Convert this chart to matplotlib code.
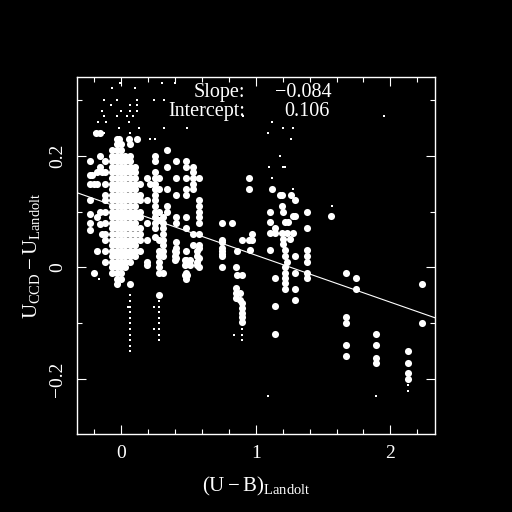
import numpy as np
import matplotlib
matplotlib.use("Agg")
from matplotlib import pyplot as plt
from matplotlib.ticker import MultipleLocator

plt.rcParams['font.family'] = ['Liberation Serif', 'DejaVu Serif']
plt.rcParams['mathtext.fontset'] = 'custom'
plt.rcParams['mathtext.rm'] = 'Liberation Serif'
plt.rcParams['mathtext.it'] = 'Liberation Serif'

# fit
slope = -0.084
intercept = 0.106

# dense columns of big dots (x, list of y)
col_x = [-0.12, -0.07, -0.03, 0.00, 0.03, 0.065, 0.10, 0.14, 0.25, 0.28, 0.31, 0.34, 0.41, 0.48, 0.53, 0.58, 0.75]
col_y = [
    [0.19, 0.17, 0.15, 0.13, 0.12, 0.10, 0.08, 0.06, 0.05, 0.03, 0.01],
    [0.21, 0.20, 0.19, 0.18, 0.17, 0.16, 0.15, 0.14, 0.13, 0.12, 0.11, 0.10, 0.09, 0.08, 0.07, 0.06, 0.05, 0.04, 0.03, 0.02, 0.01, 0.00, -0.01],
    [0.23, 0.22, 0.21, 0.20, 0.19, 0.18, 0.17, 0.16, 0.15, 0.14, 0.13, 0.12, 0.11, 0.10, 0.09, 0.08, 0.07, 0.06, 0.05, 0.04, 0.03, 0.02, 0.01, 0.00, -0.01, -0.02, -0.03],
    [0.22, 0.21, 0.20, 0.19, 0.18, 0.17, 0.16, 0.15, 0.14, 0.13, 0.12, 0.11, 0.10, 0.09, 0.08, 0.07, 0.06, 0.05, 0.04, 0.03, 0.02, 0.01, 0.00, -0.01, -0.02],
    [0.20, 0.19, 0.18, 0.17, 0.16, 0.15, 0.14, 0.13, 0.12, 0.11, 0.10, 0.09, 0.08, 0.07, 0.06, 0.05, 0.04, 0.03, 0.02, 0.01, 0.00],
    [0.22, 0.20, 0.19, 0.18, 0.17, 0.16, 0.15, 0.14, 0.13, 0.12, 0.11, 0.10, 0.09, 0.08, 0.07, 0.06, 0.05, 0.04, 0.03, 0.02, 0.01, -0.03],
    [0.18, 0.17, 0.16, 0.15, 0.14, 0.13, 0.12, 0.11, 0.10, 0.09, 0.08, 0.07, 0.06, 0.05, 0.04, 0.03, 0.02],
    [0.15, 0.13, 0.12, 0.10, 0.09, 0.07, 0.06, 0.05, 0.03],
    [0.20, 0.19, 0.17, 0.16, 0.15, 0.14, 0.13, 0.12, 0.11, 0.10, 0.09, 0.08, 0.07, 0.055],
    [0.16, 0.14, 0.10, 0.085, 0.05, 0.03, 0.02, 0.01, 0.00, -0.01, -0.05],
    [0.09, 0.08, 0.07, 0.06, 0.05, 0.04, 0.03, 0.02, -0.01],
    [0.21, 0.18, 0.14, 0.11, 0.10],
    [0.19, 0.16, 0.13, 0.09, 0.08, 0.045, 0.035, 0.027, 0.017],
    [0.19, 0.18, 0.16, 0.14, 0.13, 0.09, 0.07, 0.03, 0.013, 0.008, -0.01, -0.015, -0.02],
    [0.18, 0.17, 0.16, 0.15, 0.14, 0.06, 0.04],
    [0.16, 0.12, 0.11, 0.10, 0.09, 0.08, 0.06, 0.04, 0.035, 0.017, 0.00],
    [0.08, 0.05, 0.045, 0.035, 0.025, 0.02, 0.00, 0.03],
]

# scattered big dots
big_x = [-0.23, -0.22, -0.20, -0.18, -0.14, -0.16, -0.16, -0.23, -0.23, -0.18, -0.23, -0.16, -0.23, -0.18,
         -0.23, -0.16, -0.23, -0.14, -0.18, -0.20, -0.19, -0.16, -0.02, 0.06, 0.12,
         0.19, 0.19, 0.19, 0.19, 0.21, 0.19, 0.19,
         0.47, 0.47, 0.51, 0.51, 0.47, 0.49, 0.56, 0.56, 0.56, 0.56, 0.40, 0.40, 0.40,
         0.82, 0.86, 0.85, 0.86, 0.90, 0.85, 0.85, 0.88, 0.85, 0.88, 0.90, 0.90, 0.90, 0.90, 0.90,
         0.95, 0.95, 0.95, 0.97, 0.97, 0.957, 0.90,
         1.12, 1.18, 1.195, 1.26, 1.29, 1.195, 1.106, 1.20, 1.38, 1.277, 1.292, 1.56, 1.106, 1.217,
         1.239, 1.143, 1.381, 1.106, 1.143, 1.195, 1.232, 1.277, 1.202, 1.255, 1.202, 1.217, 1.106, 1.381,
         1.217, 1.232, 1.217, 1.217, 1.217, 1.217, 1.217, 1.292, 1.292, 1.292, 1.292, 1.381, 1.381,
         1.381, 1.381, 1.143, 1.143, 1.143,
         1.671, 1.671, 1.671, 1.671, 1.671, 1.746, 1.746, 1.894, 1.894, 1.894, 1.894,
         2.132, 2.132, 2.132, 2.132, 2.236, 2.236]
big_y = [0.19, 0.165, 0.15, 0.17, 0.17, 0.20, 0.18, 0.165, 0.15, 0.15, 0.12, 0.10, 0.095, 0.09,
         0.08, 0.078, 0.067, 0.06, 0.03, -0.01, 0.24, 0.24, 0.23, 0.23, 0.23,
         0.16, 0.12, 0.08, 0.05, 0.15, 0.01, 0.004,
         0.013, 0.004, 0.013, 0.004, -0.014, -0.014, 0.03, 0.02, 0.01, 0.005, 0.03, 0.02, 0.013,
         0.08, 0.03, 0.00, -0.014, -0.014, -0.037, -0.046, -0.046, -0.055, -0.059, -0.064, -0.073, -0.082, -0.089, -0.098,
         0.16, 0.14, 0.05, 0.06, 0.05, 0.031, 0.05,
         0.14, 0.13, 0.13, 0.13, 0.12, 0.11, 0.10, 0.10, 0.10, 0.092, 0.092, 0.092, 0.081, 0.081,
         0.081, 0.070, 0.070, 0.061, 0.061, 0.061, 0.061, 0.061, 0.051, 0.051, 0.042, 0.031, 0.031, 0.031,
         0.020, 0.009, 0.001, -0.010, -0.019, -0.028, -0.039, 0.020, -0.010, -0.039, -0.059, 0.020, 0.009,
         -0.010, -0.019, -0.019, -0.069, -0.119,
         -0.010, -0.089, -0.100, -0.139, -0.159, -0.019, -0.039, -0.119, -0.139, -0.161, -0.170,
         -0.150, -0.170, -0.189, -0.200, -0.030, -0.100]

# small dots
small_x = [-0.01, 0.30, 0.40, -0.07, 0.10, -0.13, -0.03, 0.12, 0.24, 0.32, -0.08, 0.065, 0.12, -0.14,
           0.00, 0.065, 0.12, -0.13, -0.03, 0.04, 0.09, -0.17, -0.11, 0.06, -0.02, 0.13, 0.32, 0.49,
           0.065, 0.21, 0.25, -0.20, -0.13,
           1.12, 1.09, 1.20, 1.28, 1.26, 1.18, 1.10, 1.20, 1.22, 1.12, 1.28, 1.95, 1.57, 0.905,
           0.065, 0.065, 0.065, 0.065, 0.065, 0.065, 0.065, 0.065, 0.065, 0.065, 0.065, 0.05,
           0.28, 0.28, 0.28, 0.28, 0.28, 0.28, 0.28, 0.28, 0.245, 0.245,
           0.90, 0.90, 0.84, 0.90, 2.13, 2.13, 1.09, 1.89, -0.165, -0.01]
small_y = [0.33, 0.33, 0.33, 0.32, 0.32, 0.30, 0.30, 0.30, 0.30, 0.30, 0.29, 0.29, 0.29, 0.28,
           0.28, 0.28, 0.28, 0.27, 0.27, 0.27, 0.27, 0.26, 0.26, 0.26, 0.25, 0.25, 0.25, 0.25,
           0.24, 0.23, 0.23, 0.24, 0.24,
           0.26, 0.24, 0.25, 0.25, 0.23, 0.20, 0.18, 0.18, 0.18, 0.16, 0.14, 0.27, 0.11, 0.27,
           -0.05, -0.06, -0.07, -0.08, -0.09, -0.10, -0.11, -0.12, -0.13, -0.14, -0.15, -0.07,
           -0.06, -0.07, -0.08, -0.09, -0.10, -0.11, -0.12, -0.13, -0.07, -0.11,
           -0.11, -0.12, -0.12, -0.13, -0.21, -0.22, -0.23, -0.23, -0.02, -0.03]

x_ticks = [0, 1, 2]
x_tick_labels = ['0', '1', '2']
y_ticks = [-0.2, 0, 0.2]
y_tick_labels = ['\u22120.2', '0', '0.2']

fig = plt.figure(figsize=(5.12, 5.12), dpi=100, facecolor='black')
ax = fig.add_axes([0.151, 0.152, 0.698, 0.697], facecolor='black')

for x, ys in zip(col_x, col_y):
    ax.scatter([x] * len(ys), ys, s=26, c='white', marker='o', linewidths=0)
ax.scatter(big_x, big_y, s=26, c='white', marker='o', linewidths=0)
ax.scatter(small_x, small_y, s=4.5, c='white', marker='s', linewidths=0)

ax.set_xlim(-0.327, 2.33)
ax.set_ylim(-0.298, 0.34)
xl = np.array(ax.get_xlim())
ax.plot(xl, intercept + slope * xl, color='white', lw=0.8)

for sp in ax.spines.values():
    sp.set_color('white')
    sp.set_linewidth(1.0)
ax.set_xticks(x_ticks)
ax.set_xticklabels(x_tick_labels)
ax.set_yticks(y_ticks)
ax.set_yticklabels(y_tick_labels, rotation=90, va='center')
ax.xaxis.set_minor_locator(MultipleLocator(0.2))
ax.yaxis.set_minor_locator(MultipleLocator(0.1))
ax.tick_params(which='both', direction='in', top=True, right=True, colors='white', width=0.8)
ax.tick_params(which='major', length=6.3, labelsize=14, pad=8)
ax.tick_params(which='minor', length=3.4)

ax.set_xlabel(r'$\mathrm{(U-B)_{Landolt}}$', color='white', fontsize=15, labelpad=9)
ax.set_ylabel(r'$\mathrm{U_{CCD}-U_{Landolt}}$', color='white', fontsize=15, labelpad=5)

ax.text(0.469, 0.945, 'Slope:', transform=ax.transAxes, ha='right', va='baseline', color='white', fontsize=14.5)
ax.text(0.713, 0.945, '\u22120.084', transform=ax.transAxes, ha='right', va='baseline', color='white', fontsize=14.5)
ax.text(0.469, 0.892, 'Intercept:', transform=ax.transAxes, ha='right', va='baseline', color='white', fontsize=14.5)
ax.text(0.705, 0.892, '0.106', transform=ax.transAxes, ha='right', va='baseline', color='white', fontsize=14.5)

fig.savefig('out.png', dpi=100, facecolor='black')
